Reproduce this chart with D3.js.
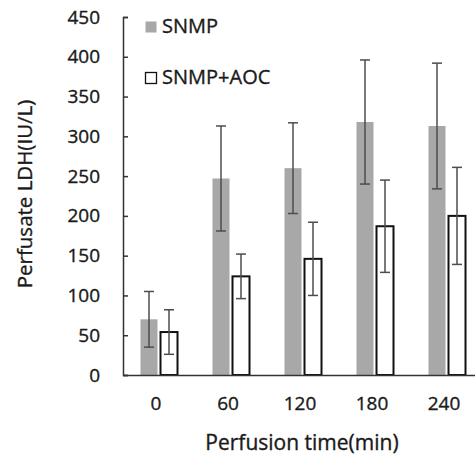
<meta charset="utf-8">
<style>
  body { margin: 0; background: #fff; }
  svg text { font-family: "Open Sans", sans-serif; fill: #1a1a1a; stroke: #1a1a1a; stroke-width: 0.35px; }
</style>
<svg width="475" height="458" id="chart"></svg>
<script src="https://cdn.jsdelivr.net/npm/d3@7"></script>
<script>
var times = ["0", "60", "120", "180", "240"];
var snmp = [70, 247, 260, 318, 313];
var snmpErr = [35, 66, 57, 78, 79];
var aoc = [54, 124, 146, 187, 200];
var aocErr = [28, 28, 46, 58, 61];
var yTicks = [0, 50, 100, 150, 200, 250, 300, 350, 400, 450];

var svg = d3.select("#chart"),
	margin = {top: 17, left: 123, bottom: 83},
	height = +svg.attr("height") - margin.top - margin.bottom;

var x = d3.scaleBand().domain(times).range([0, 360]);
var y = d3.scaleLinear().domain([0, 450]).range([height, 0]);

var g = svg.append("g")
	.attr("transform", "translate(" + margin.left + "," + margin.top + ")");

var barW = 17, gap = 3;
var series = [
	{vals: snmp, err: snmpErr, off: -barW - gap / 2, fill: "#a8a8a8", stroke: "none", errColor: "#4d4d4d"},
	{vals: aoc, err: aocErr, off: gap / 2, fill: "#fff", stroke: "#111", errColor: "#4d4d4d"}
];

series.forEach(function(s) {
	var grp = g.append("g");
	grp.selectAll("rect")
		.data(s.vals)
		.enter().append("rect")
		.attr("x", function(d, i) { return x(times[i]) + x.bandwidth() / 2 + s.off; })
		.attr("y", function(d) { return y(d); })
		.attr("width", barW)
		.attr("height", function(d) { return height - y(d); })
		.attr("fill", s.fill)
		.attr("stroke", s.stroke)
		.attr("stroke-width", s.stroke == "none" ? 0 : 2);

	s.vals.forEach(function(d, i) {
		var cx = x(times[i]) + x.bandwidth() / 2 + s.off + barW / 2;
		var e = grp.append("g").attr("stroke", s.errColor).attr("stroke-width", 1.5);
		e.append("line").attr("x1", cx).attr("x2", cx).attr("y1", y(d + s.err[i])).attr("y2", y(d - s.err[i]));
		e.append("line").attr("x1", cx - 5).attr("x2", cx + 5).attr("y1", y(d + s.err[i])).attr("y2", y(d + s.err[i]));
		e.append("line").attr("x1", cx - 5).attr("x2", cx + 5).attr("y1", y(d - s.err[i])).attr("y2", y(d - s.err[i]));
	});
});

var yAxis = g.append("g")
	.call(d3.axisLeft(y).tickValues(yTicks).tickSize(-5).tickPadding(23));
yAxis.select(".domain").attr("stroke", "#333").attr("stroke-width", 1.5);
yAxis.selectAll(".tick line").attr("stroke", "#333").attr("stroke-width", 1.5);
yAxis.selectAll("text").attr("font-size", 19).attr("fill", "#1a1a1a");

var xAxis = g.append("g")
	.attr("transform", "translate(0," + height + ")")
	.call(d3.axisBottom(x).tickSize(0).tickPadding(22).tickSizeOuter(0));
xAxis.select(".domain").attr("stroke", "#333").attr("stroke-width", 1.5);
xAxis.selectAll("text").attr("font-size", 19).attr("fill", "#1a1a1a").attr("dx", -3);

svg.append("text")
	.attr("transform", "translate(32," + 194 + ") rotate(-90)")
	.attr("text-anchor", "middle")
	.attr("font-size", 20.5)
	.text("Perfusate LDH(IU/L)");

svg.append("text")
	.attr("x", margin.left + 179)
	.attr("y", 450)
	.attr("text-anchor", "middle")
	.attr("font-size", 21)
	.text("Perfusion time(min)");

// legend
var legend = [
	{name: "SNMP", fill: "#a8a8a8", stroke: "none"},
	{name: "SNMP+AOC", fill: "#fff", stroke: "#111"}
];
var lg = svg.append("g").attr("transform", "translate(145,21)");
legend.forEach(function(l, i) {
	lg.append("rect")
		.attr("x", 0.5).attr("y", i * 51 + 0.5)
		.attr("width", 11).attr("height", 11)
		.attr("fill", l.fill)
		.attr("stroke", l.stroke)
		.attr("stroke-width", 1.3);
	lg.append("text")
		.attr("x", 17).attr("y", i * 51 + 12)
		.attr("font-size", 20)
		.text(l.name);
});
</script>
